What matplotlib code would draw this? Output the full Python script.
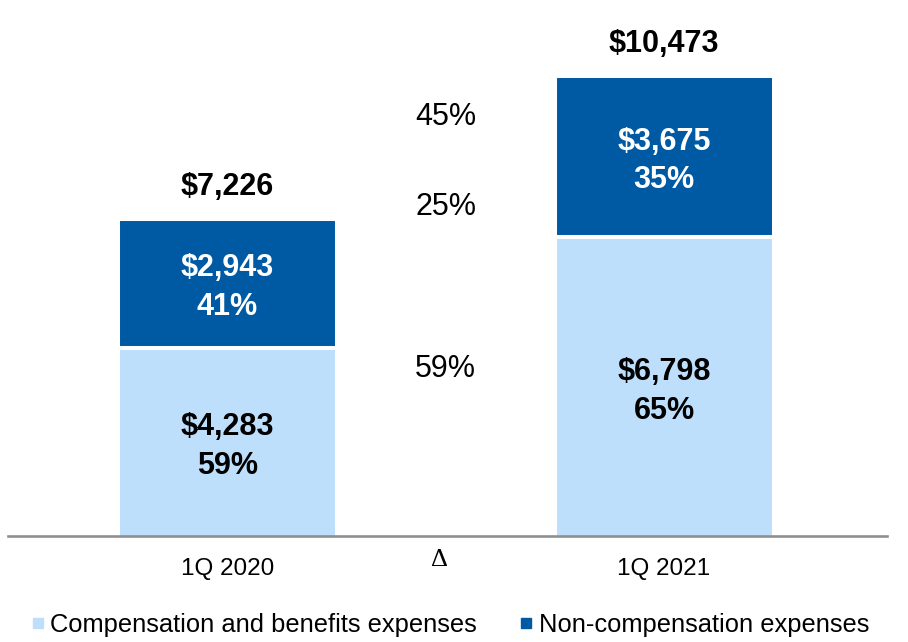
import matplotlib
matplotlib.use("Agg")
import matplotlib.pyplot as plt
from matplotlib.lines import Line2D

# ---- data ----
categories = ["1Q 2020", "1Q 2021"]
comp_benefits = [4283, 6798]          # Compensation and benefits expenses
non_comp = [2943, 3675]               # Non-compensation expenses
totals = [7226, 10473]
delta_label = "\u0394"
delta_pct = [59, 25, 45]              # comp, non-comp, total change (%)
series_names = ["Compensation and benefits expenses", "Non-compensation expenses"]

LIGHT = "#BDDFFB"
DARK = "#005AA3"

plt.rcParams['font.family'] = ['Liberation Sans', 'DejaVu Sans']

W, H = 908, 642
fig = plt.figure(figsize=(W / 100, H / 100), dpi=100)
base_px = 535.5
scale = 0.04386  # px per unit
left_px, right_px = 8, 887
c0, step = 227.5, 436.5
ax = fig.add_axes([left_px / W, (H - base_px) / H, (right_px - left_px) / W, base_px / H])
ax.set_xlim((left_px - c0) / step, (right_px - c0) / step)
ax.set_ylim(0, base_px / scale)

x = [0, 1]
ax.bar(x, comp_benefits, width=215 / step, color=LIGHT, linewidth=0, zorder=2)
ax.bar(x, non_comp, width=219 / step, bottom=comp_benefits, color=DARK, edgecolor="white",
       linewidth=2.9, zorder=2)

for s in ["top", "right", "left"]:
    ax.spines[s].set_visible(False)
ax.spines["bottom"].set_color("#8F8F8F")
ax.spines["bottom"].set_linewidth(1.9)
ax.spines["bottom"].set_zorder(3)
ax.set_yticks([])
ax.set_xticks(x)
ax.set_xticklabels(categories, fontsize=17.5)
ax.tick_params(axis="x", length=0, pad=16)

fs = 22
for i in x:
    c, n, t = comp_benefits[i], non_comp[i], totals[i]
    ax.annotate(f"${c:,}\n{round(100 * c / t)}%", (i, c / 2), xytext=(0, -3.5),
                textcoords="offset points", ha="center", va="center",
                fontsize=fs, fontweight="bold", color="black", linespacing=1.37, zorder=4)
    ax.annotate(f"${n:,}\n{round(100 * n / t)}%", (i, c + n / 2), xytext=(0, -3),
                textcoords="offset points", ha="center", va="center",
                fontsize=fs, fontweight="bold", color="white", linespacing=1.37, zorder=4)
    ax.annotate(f"${t:,}", (i, t), xytext=(0, 23), textcoords="offset points",
                ha="center", va="center", fontsize=fs, fontweight="bold", color="black")

# delta column
delta_y = [(base_px - 369) / scale, (base_px - 207) / scale, (base_px - 117) / scale]
for p, yy in zip(delta_pct, delta_y):
    ax.text(0.5, yy, f"{p}%", ha="center", va="center", fontsize=fs, color="black")
ax.annotate(delta_label, ((439.5 - c0) / step, 0), xytext=(0, -17.6), textcoords="offset points",
            ha="center", va="center", fontsize=19, family=["Liberation Serif", "DejaVu Serif"],
            annotation_clip=False)

handles = [Line2D([], [], marker="s", linestyle="none", markersize=7.2,
                  markerfacecolor=LIGHT, markeredgecolor=LIGHT),
           Line2D([], [], marker="s", linestyle="none", markersize=7.2,
                  markerfacecolor=DARK, markeredgecolor=DARK)]
fig.legend(handles, series_names, loc="center left", ncol=2,
           bbox_to_anchor=(31.75 / W, 1 - 625 / H), frameon=False, fontsize=18.35,
           handlelength=0.5, handletextpad=0.23, columnspacing=1.68,
           borderpad=0, borderaxespad=0)

fig.savefig("out.png", dpi=100)
